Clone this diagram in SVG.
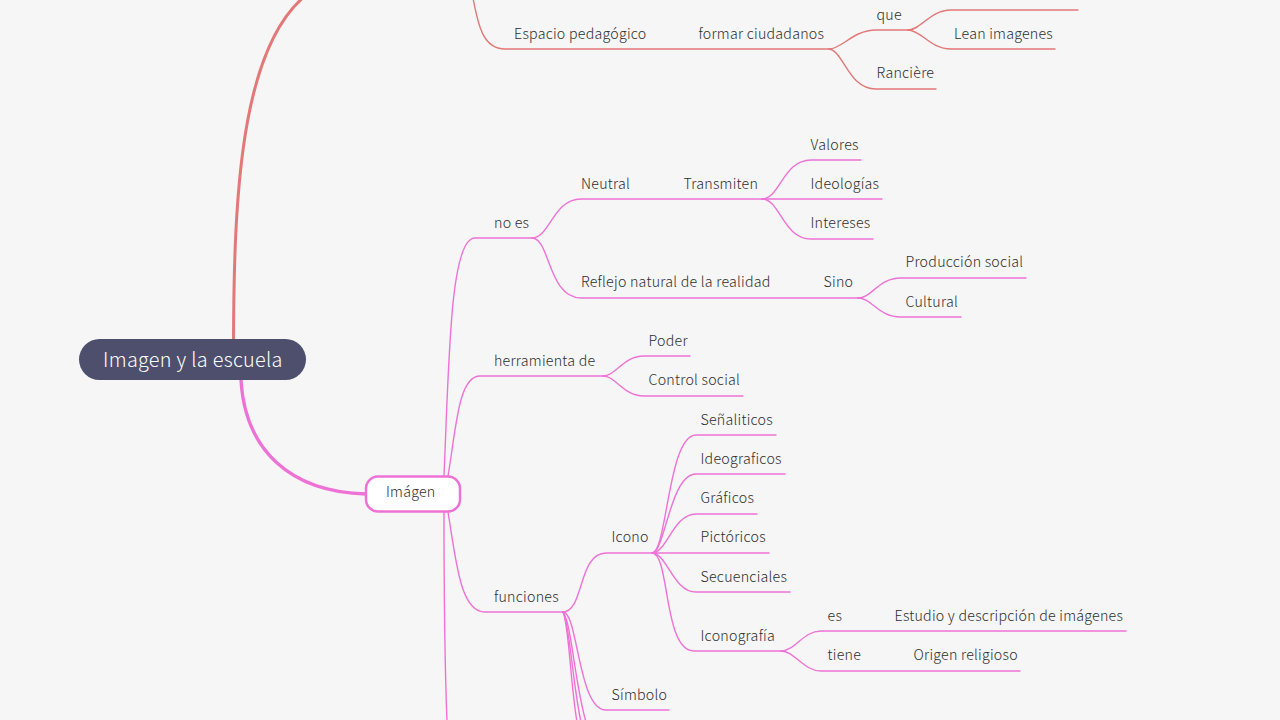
<svg xmlns="http://www.w3.org/2000/svg" width="1280" height="720" viewBox="0 0 1280 720">
<style>
text{font-family:"Noto Sans CJK JP","Noto Sans",sans-serif;font-size:14.2px;fill:#2e2e2e;font-weight:300;letter-spacing:.25px}
.l{fill:none;stroke-width:1.4;stroke-linecap:round}
.c{stroke:#e27878}
.p{stroke:#ee72d6}
</style>
<rect width="1280" height="720" fill="#f6f6f6"/>
<g id="connectors">
<path class="c" fill="none" stroke-width="3" d="M233.500 340C234 200 240 50 305 -4"/>
<path class="p" fill="none" stroke-width="3.300" d="M241 380C245 450 290 492 366 494"/>
<g class="l c">
<path d="M473 -2C478 25 483 49 505 49H829"/>
<path d="M829 49C842 49 853 30 876 30H908"/>
<path d="M908 30C921 30 930 10 951 10H1078"/>
<path d="M908 30C921 30 930 49 951 49H1055"/>
<path d="M829 49C844 51 848 89 876 89H936"/>
</g>
<g class="l p">
<path d="M444 476C449 360 450 238 475 238H532"/>
<path d="M532 238C550 238 553 199 581 199H762"/>
<path d="M762 199C780 199 783 160 811 160H861"/>
<path d="M762 199H882"/>
<path d="M762 199C780 199 783 239 811 239H873"/>
<path d="M532 238C550 238 548 298 581 298H858"/>
<path d="M858 298C872 298 878 278 901 278H1026"/>
<path d="M858 298C872 298 878 317 901 317H961"/>
<path d="M448 476C456 430 458 376 480 376H603"/>
<path d="M603 376C616 376 623 356 644 356H690"/>
<path d="M603 376C616 376 623 396 644 396H743"/>
<path d="M448 512C456 560 460 612 485 612H563"/>
<path d="M563 612C584 612 578 553 606 553H652"/>
<path d="M652 553C667 553 668 435 696 435H776"/>
<path d="M652 553C665 553 670 474 696 474H785"/>
<path d="M652 553C667 553 673 514 696 514H757"/>
<path d="M652 553H769"/>
<path d="M652 553C667 553 673 592 696 592H790"/>
<path d="M652 553C670 553 663 651 694 651H781"/>
<path d="M781 651C795 651 803 631 821 631H1126"/>
<path d="M781 651C795 651 803 671 821 671H1020"/>
<path d="M563 612C578 612 578 710 606 710H669"/>
<path d="M563 612C572 625 574 680 586 722"/>
<path d="M563 612C570 625 572 680 581 722"/>
<path d="M563 612C569 625 570 680 577 722"/>
<path d="M444 512C444 600 445 670 447 722"/>
</g>
</g>
<g id="root"><rect x="79" y="339" width="227" height="41" rx="20.500" fill="#4e4f6c"/><text x="103" y="367" style="font-size:19.800px;fill:#fff;letter-spacing:.32px">Imagen y la escuela</text></g>
<g id="imagen"><rect x="366" y="476.500" width="94" height="35" rx="12" fill="#fff" stroke="#ee72d6" stroke-width="2.500"/><text x="386" y="497">Imágen</text></g>
<g id="n1"><text x="514" y="39">Espacio pedagógico</text></g>
<g id="n2"><text x="698.500" y="39">formar ciudadanos</text></g>
<g id="n3"><text x="876.500" y="20">que</text></g>
<g id="n4"><text x="954" y="39">Lean imagenes</text></g>
<g id="n5"><text x="876.500" y="78">Rancière</text></g>
<g id="n6"><text x="810.500" y="150">Valores</text></g>
<g id="n7"><text x="581" y="189">Neutral</text></g>
<g id="n8"><text x="683.500" y="189">Transmiten</text></g>
<g id="n9"><text x="810.500" y="189">Ideologías</text></g>
<g id="n10"><text x="494" y="228">no es</text></g>
<g id="n11"><text x="810.500" y="228">Intereses</text></g>
<g id="n12"><text x="905.500" y="267">Producción social</text></g>
<g id="n13"><text x="581" y="287">Reflejo natural de la realidad</text></g>
<g id="n14"><text x="823.500" y="287">Sino</text></g>
<g id="n15"><text x="905.500" y="306.500">Cultural</text></g>
<g id="n16"><text x="648.500" y="346">Poder</text></g>
<g id="n17"><text x="494" y="366">herramienta de</text></g>
<g id="n18"><text x="648.500" y="385">Control social</text></g>
<g id="n19"><text x="700.500" y="425">Señaliticos</text></g>
<g id="n20"><text x="700.500" y="464">Ideograficos</text></g>
<g id="n21"><text x="700.500" y="503">Gráficos</text></g>
<g id="n22"><text x="611.500" y="542">Icono</text></g>
<g id="n23"><text x="700.500" y="542">Pictóricos</text></g>
<g id="n24"><text x="700.500" y="582">Secuenciales</text></g>
<g id="n25"><text x="494" y="602">funciones</text></g>
<g id="n26"><text x="827.500" y="621">es</text></g>
<g id="n27"><text x="894.500" y="621">Estudio y descripción de imágenes</text></g>
<g id="n28"><text x="700.500" y="641">Iconografía</text></g>
<g id="n29"><text x="827.500" y="660">tiene</text></g>
<g id="n30"><text x="913.500" y="660">Origen religioso</text></g>
<g id="n31"><text x="611.500" y="700">Símbolo</text></g>
</svg>
